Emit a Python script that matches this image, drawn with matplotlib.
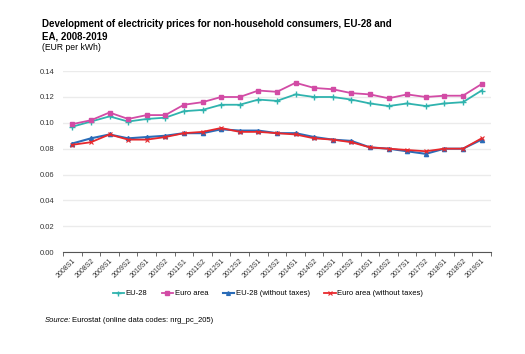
import matplotlib
matplotlib.use("Agg")
import matplotlib.pyplot as plt

plt.rcParams['font.family'] = ['Liberation Sans', 'DejaVu Sans']

periods = ["2008S1", "2008S2", "2009S1", "2009S2", "2010S1", "2010S2", "2011S1", "2011S2",
           "2012S1", "2012S2", "2013S1", "2013S2", "2014S1", "2014S2", "2015S1", "2015S2",
           "2016S1", "2016S2", "2017S1", "2017S2", "2018S1", "2018S2", "2019S1"]
eu28 = [0.097, 0.101, 0.105, 0.101, 0.103, 0.104, 0.109, 0.110, 0.114, 0.114, 0.118, 0.117,
        0.122, 0.120, 0.120, 0.118, 0.115, 0.113, 0.115, 0.113, 0.115, 0.116, 0.125]
euro_area = [0.099, 0.102, 0.108, 0.103, 0.106, 0.106, 0.114, 0.116, 0.120, 0.120, 0.125, 0.124,
             0.131, 0.127, 0.126, 0.123, 0.122, 0.119, 0.122, 0.120, 0.121, 0.121, 0.130]
eu28_notax = [0.084, 0.088, 0.091, 0.088, 0.089, 0.090, 0.092, 0.092, 0.095, 0.094, 0.094, 0.092,
              0.092, 0.089, 0.087, 0.086, 0.081, 0.080, 0.078, 0.076, 0.080, 0.080, 0.087]
euro_notax = [0.083, 0.085, 0.091, 0.087, 0.087, 0.089, 0.092, 0.093, 0.096, 0.093, 0.093, 0.092,
              0.091, 0.088, 0.087, 0.085, 0.081, 0.080, 0.079, 0.078, 0.080, 0.080, 0.088]
yticks = [0.00, 0.02, 0.04, 0.06, 0.08, 0.10, 0.12, 0.14]

fig = plt.figure(figsize=(5.25, 3.54), dpi=100)
ax = fig.add_axes([0.12, 0.288, 0.815, 0.511])

x = list(range(len(periods)))
ax.plot(x, eu28, color='#2fb3ae', lw=1.3, marker='+', ms=4, mew=1.0, label='EU-28', zorder=3)
ax.plot(x, euro_area, color='#d24ba5', lw=1.3, marker='s', ms=3.5, label='Euro area', zorder=3)
ax.plot(x, eu28_notax, color='#2a6cb8', lw=1.5, marker='^', ms=3, label='EU-28 (without taxes)', zorder=3)
ax.plot(x, euro_notax, color='#e8282c', lw=1.3, marker='x', ms=3, mew=0.8, label='Euro area (without taxes)', zorder=4)

ax.set_xlim(-0.5, len(periods) - 0.5)
ax.set_ylim(0, 0.14)
ax.set_yticks(yticks)
ax.set_yticklabels([f"{v:.2f}" for v in yticks], fontsize=5.5, color='#333333')
ax.set_xticks([i - 0.5 for i in range(len(periods) + 1)], minor=False)
ax.set_xticklabels([])
ax.set_xticks(x, minor=True)
ax.set_xticklabels(periods, minor=True, rotation=45, ha='right', rotation_mode='anchor', fontsize=5, color='#333333')
ax.tick_params(axis='x', which='minor', length=0, pad=4)
ax.tick_params(axis='x', which='major', length=3, width=0.6, color='#555555')
ax.tick_params(axis='y', length=0, pad=6)
ax.grid(axis='y', color='#ebebeb', lw=1)
ax.set_axisbelow(True)
for s in ['top', 'right', 'left']:
    ax.spines[s].set_visible(False)
ax.spines['bottom'].set_color('#555555')
ax.spines['bottom'].set_linewidth(0.8)

fig.legend(loc='center', bbox_to_anchor=(0.51, 0.17), ncol=4, frameon=False, fontsize=5.5,
           handlelength=1.5, handletextpad=0.2, columnspacing=1.9, markerscale=0.9)

fig.text(0.08, 0.945, "Development of electricity prices for non-household consumers, EU-28 and\nEA, 2008-2019",
         fontsize=7, fontweight='bold', ha='left', va='top', linespacing=1.3)
fig.text(0.08, 0.878, "(EUR per kWh)", fontsize=6.2, ha='left', va='top')
fig.text(0.086, 0.095, "Source:", fontsize=5.5, style='italic', ha='left', va='center')
fig.text(0.137, 0.095, "Eurostat (online data codes: nrg_pc_205)", fontsize=5.5, ha='left', va='center')

fig.savefig("out.png", dpi=100)
